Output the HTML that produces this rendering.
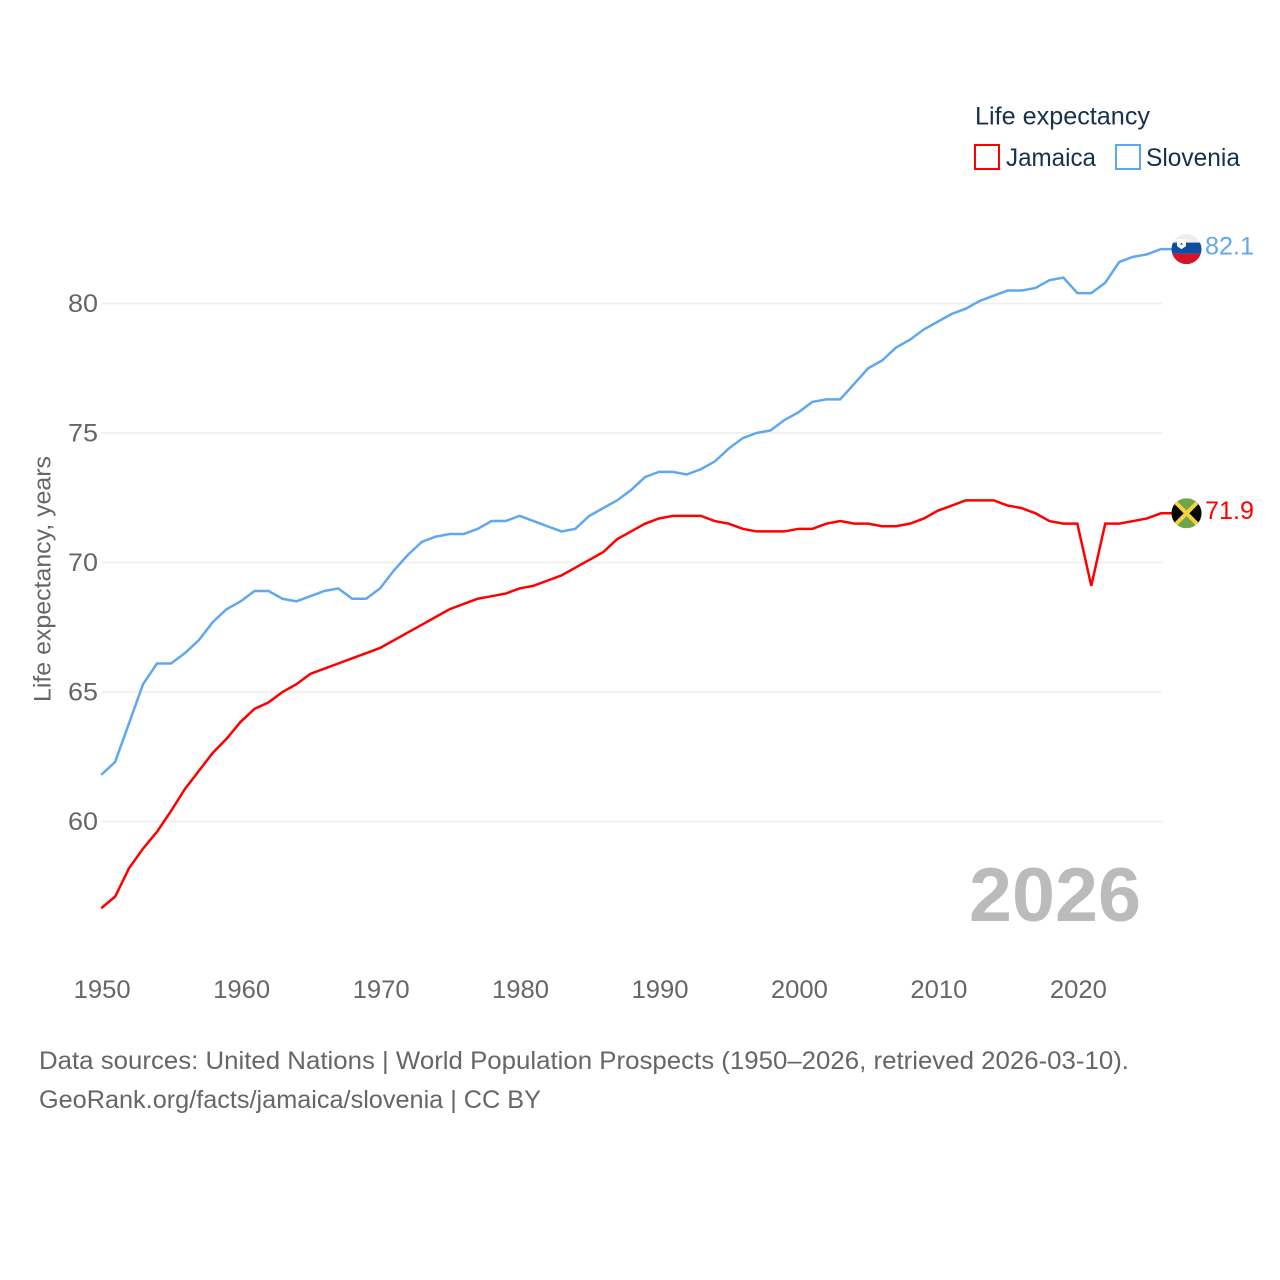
<!DOCTYPE html>
<html lang="en">
<head>
<meta charset="utf-8">
<title>Life expectancy: Jamaica and Slovenia</title>
<style>
html,body{margin:0;padding:0;background:#fff;width:1280px;height:1280px;overflow:hidden}
svg{display:block;font-family:"Liberation Sans",sans-serif}
</style>
</head>
<body>
<svg id="chart" width="1280" height="1280" viewBox="0 0 1280 1280" xmlns="http://www.w3.org/2000/svg">
  <rect width="1280" height="1280" fill="#fff"/>
  <g id="grid"></g>
  <g id="yticks"></g>
  <g id="xticks"></g>
  <text transform="translate(50.5,702) rotate(-90)" font-size="24" fill="#666" textLength="246" lengthAdjust="spacingAndGlyphs">Life expectancy, years</text>
  <text x="969" y="921" font-size="76" font-weight="700" fill="#bbb" textLength="172" lengthAdjust="spacingAndGlyphs">2026</text>
  <g id="series"></g>
  <g id="jamaica-end">
    <defs>
      <clipPath id="clip-flag"><circle cx="0" cy="0" r="15"/></clipPath>
    </defs>
    <g clip-path="url(#clip-flag)">
      <rect x="-15" y="-15" width="30" height="30" fill="#6ea646"/>
      <polygon points="-15,-15 0,0 -15,15" fill="#050505"/>
      <polygon points="15,-15 0,0 15,15" fill="#050505"/>
      <line x1="-15" y1="-15" x2="15" y2="15" stroke="#f7d046" stroke-width="4"/>
      <line x1="15" y1="-15" x2="-15" y2="15" stroke="#f7d046" stroke-width="4"/>
    </g>
  </g>
  <g id="slovenia-end">
    <g clip-path="url(#clip-flag)">
      <rect x="-15" y="-15" width="30" height="8.5" fill="#eeeeee"/>
      <rect x="-15" y="-6.5" width="30" height="11" fill="#0b4ea2"/>
      <rect x="-15" y="4.5" width="30" height="10.5" fill="#d6132a"/>
      <path d="M-9.5,-10 h9 v7 l-4.5,3 l-4.5,-3 z" fill="#fff"/>
      <path d="M-6.5,-4.5 l1.5,-2 l1.5,2 z" fill="#0b4ea2"/>
    </g>
  </g>
  <text id="jamaica-value" x="1205" font-size="25" fill="#ff0000" textLength="49" lengthAdjust="spacingAndGlyphs"></text>
  <text id="slovenia-value" x="1205" font-size="25" fill="#5fa8f0" textLength="49" lengthAdjust="spacingAndGlyphs"></text>

  <g>
    <text x="975" y="124.5" font-size="25" fill="#16304f" textLength="175" lengthAdjust="spacingAndGlyphs">Life expectancy</text>
    <g>
      <rect x="975" y="145" width="24" height="24" fill="#fff" stroke="#ff0000" stroke-width="2"/>
      <text x="1006" y="166" font-size="25" fill="#16304f" textLength="90" lengthAdjust="spacingAndGlyphs">Jamaica</text>
    </g>
    <g>
      <rect x="1116" y="145" width="24" height="24" fill="#fff" stroke="#5fa8f0" stroke-width="2"/>
      <text x="1146" y="166" font-size="25" fill="#16304f" textLength="94" lengthAdjust="spacingAndGlyphs">Slovenia</text>
    </g>
  </g>

  <g>
    <text x="39" y="1069" font-size="25" fill="#666" textLength="1090" lengthAdjust="spacingAndGlyphs">Data sources: United Nations | World Population Prospects (1950–2026, retrieved 2026-03-10).</text>
    <text x="39" y="1108" font-size="25" fill="#666" textLength="502" lengthAdjust="spacingAndGlyphs">GeoRank.org/facts/jamaica/slovenia | CC BY</text>
  </g>
</svg>
<script>
const startYear = 1950;
const yTickValues = [60, 65, 70, 75, 80];
const xTickValues = [1950, 1960, 1970, 1980, 1990, 2000, 2010, 2020];
const jamaicaValues = [56.65,57.1,58.2,58.95,59.6,60.4,61.25,61.95,62.65,63.2,63.85,64.35,64.6,65.0,65.3,65.7,65.9,66.1,66.3,66.5,66.7,67.0,67.3,67.6,67.9,68.2,68.4,68.6,68.7,68.8,69.0,69.1,69.3,69.5,69.8,70.1,70.4,70.9,71.2,71.5,71.7,71.8,71.8,71.8,71.6,71.5,71.3,71.2,71.2,71.2,71.3,71.3,71.5,71.6,71.5,71.5,71.4,71.4,71.5,71.7,72.0,72.2,72.4,72.4,72.4,72.2,72.1,71.9,71.6,71.5,71.5,69.1,71.5,71.5,71.6,71.7,71.9];
const sloveniaValues = [61.8,62.3,63.8,65.3,66.1,66.1,66.5,67.0,67.7,68.2,68.5,68.9,68.9,68.6,68.5,68.7,68.9,69.0,68.6,68.6,69.0,69.7,70.3,70.8,71.0,71.1,71.1,71.3,71.6,71.6,71.8,71.6,71.4,71.2,71.3,71.8,72.1,72.4,72.8,73.3,73.5,73.5,73.4,73.6,73.9,74.4,74.8,75.0,75.1,75.5,75.8,76.2,76.3,76.3,76.9,77.5,77.8,78.3,78.6,79.0,79.3,79.6,79.8,80.1,80.3,80.5,80.5,80.6,80.9,81.0,80.4,80.4,80.8,81.6,81.8,81.9,82.1];

const NS = 'http://www.w3.org/2000/svg';
const xScale = function (year) { return 101.2 + (year - 1950) * (1059.8 / 76); };
const yScale = function (v) { return 821.5 - (v - 60) * 25.9; };

function make(tag, parentId) {
  const el = document.createElementNS(NS, tag);
  document.getElementById(parentId).appendChild(el);
  return el;
}

yTickValues.forEach(function (v) {
  const line = make('line', 'grid');
  
  
  line.setAttribute('x1', 101.5);
  line.setAttribute('x2', 1162);
  line.setAttribute('y1', yScale(v));
  line.setAttribute('y2', yScale(v));
  line.setAttribute('stroke', '#eeeeee');
  line.setAttribute('stroke-width', '1.5');

  const label = make('text', 'yticks');
  
  
  label.setAttribute('x', 68);
  label.setAttribute('y', yScale(v) + 8.5);
  label.setAttribute('font-size', '25');
  label.setAttribute('fill', '#666');
  label.setAttribute('textLength', '30');
  label.setAttribute('lengthAdjust', 'spacingAndGlyphs');
  label.textContent = v;
});

xTickValues.forEach(function (year) {
  const label = make('text', 'xticks');
  
  
  label.setAttribute('x', xScale(year) - 27.5);
  label.setAttribute('y', 998);
  label.setAttribute('font-size', '25');
  label.setAttribute('fill', '#666');
  label.setAttribute('textLength', '57');
  label.setAttribute('lengthAdjust', 'spacingAndGlyphs');
  label.textContent = year;
});

function linePoints(values) {
  const pts = values.map(function (v, i) {
    return xScale(startYear + i).toFixed(2) + ',' + yScale(v).toFixed(2);
  });
  pts.push('1174,' + yScale(values[values.length - 1]).toFixed(2));
  return pts.join(' ');
}

const sloveniaLine = make('polyline', 'series');


sloveniaLine.setAttribute('points', linePoints(sloveniaValues));
sloveniaLine.setAttribute('fill', 'none');
sloveniaLine.setAttribute('stroke', '#5fa8f0');
sloveniaLine.setAttribute('stroke-width', '2.5');

const jamaicaLine = make('polyline', 'series');


jamaicaLine.setAttribute('points', linePoints(jamaicaValues));
jamaicaLine.setAttribute('fill', 'none');
jamaicaLine.setAttribute('stroke', '#ff0000');
jamaicaLine.setAttribute('stroke-width', '2.5');

const jamaicaLast = jamaicaValues[jamaicaValues.length - 1];
const sloveniaLast = sloveniaValues[sloveniaValues.length - 1];
document.getElementById('jamaica-end').setAttribute('transform', 'translate(1186.5,' + yScale(jamaicaLast) + ')');
document.getElementById('slovenia-end').setAttribute('transform', 'translate(1186.5,' + yScale(sloveniaLast) + ')');
const jamaicaValueLabel = document.getElementById('jamaica-value');
jamaicaValueLabel.setAttribute('y', yScale(jamaicaLast) + 5.5);
jamaicaValueLabel.textContent = jamaicaLast.toFixed(1);
const sloveniaValueLabel = document.getElementById('slovenia-value');
sloveniaValueLabel.setAttribute('y', yScale(sloveniaLast) + 5.5);
sloveniaValueLabel.textContent = sloveniaLast.toFixed(1);
</script>
</body>
</html>
